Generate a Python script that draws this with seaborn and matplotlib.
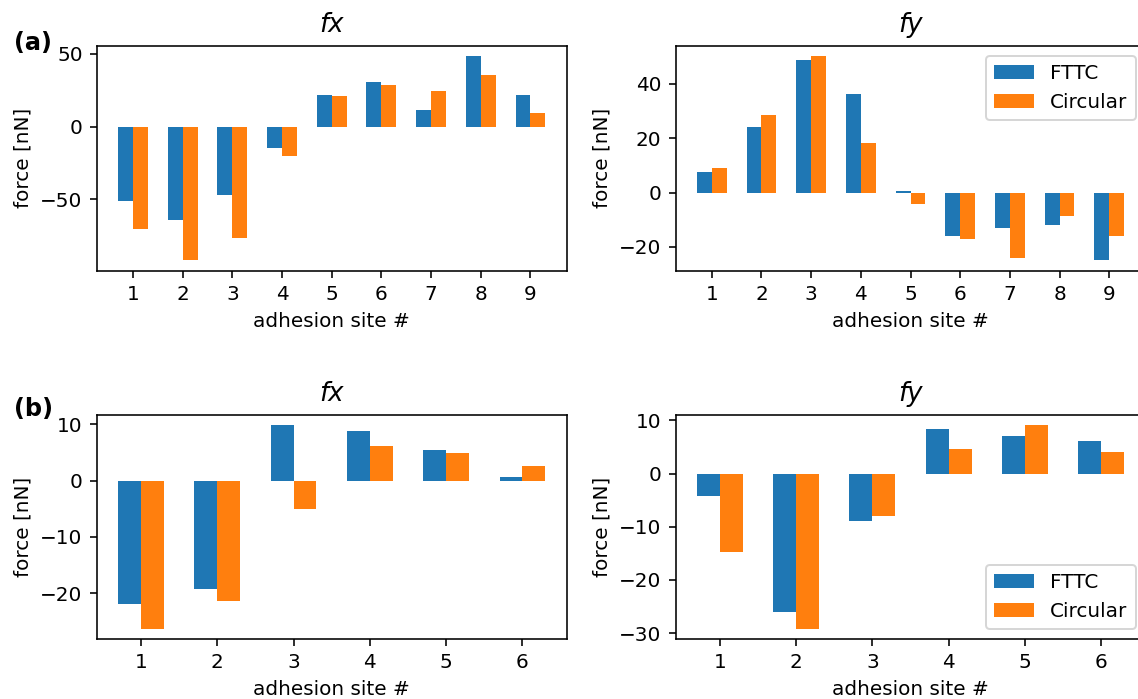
import matplotlib
matplotlib.use('Agg')
import matplotlib.pyplot as plt
import pandas
import seaborn as sns

# values, in nN
sites_a = [1, 2, 3, 4, 5, 6, 7, 8, 9]
fx_a_fttc = [-51.4, -64.4, -46.8, -14.6, 21.7, 30.6, 11.4, 48.4, 21.7]
fx_a_circ = [-70.1, -92.0, -76.3, -20.1, 21.0, 28.5, 24.4, 35.8, 9.4]
fy_a_fttc = [7.4, 24.0, 48.7, 36.4, 0.4, -16.1, -12.9, -11.8, -25.0]
fy_a_circ = [9.2, 28.4, 50.2, 18.1, -4.3, -17.2, -24.2, -8.5, -15.9]

sites_b = [1, 2, 3, 4, 5, 6]
fx_b_fttc = [-21.9, -19.2, 9.9, 8.8, 5.4, 0.7]
fx_b_circ = [-26.3, -21.4, -5.1, 6.1, 4.9, 2.6]
fy_b_fttc = [-4.3, -26.0, -9.0, 8.3, 7.1, 6.2]
fy_b_circ = [-14.7, -29.2, -7.9, 4.7, 9.2, 4.1]

methods = ['FTTC', 'Circular']
colors = ['#1f77b4', '#ff7f0e']

DPI = 144


def make_frame(sites, fttc, circ):
    rows = []
    for s, v in zip(sites, fttc):
        rows.append({'site': s, 'method': 'FTTC', 'force': v})
    for s, v in zip(sites, circ):
        rows.append({'site': s, 'method': 'Circular', 'force': v})
    return pandas.DataFrame(rows)


def draw_panel(ax, sites, fttc, circ, title, legend_loc=None):
    df = make_frame(sites, fttc, circ)
    sns.barplot(data=df, x='site', y='force', hue='method', hue_order=methods,
                palette=colors, saturation=1, width=0.6, errorbar=None,
                linewidth=0, ax=ax)
    n = len(sites)
    pad = 0.05 * (n - 1 + 0.6)
    ax.set_xlim(-0.3 - pad, n - 1 + 0.3 + pad)
    ax.set_xlabel('adhesion site #')
    ax.set_ylabel('force [nN]')
    ax.set_title(title, fontstyle='italic', fontsize=13, pad=7)
    if legend_loc is None:
        ax.get_legend().remove()
    else:
        ax.legend(loc=legend_loc, title=None)


W, H = 1138.0, 699.0
fig = plt.figure(figsize=(W / DPI, H / DPI), dpi=DPI)
col_x = [96.7, 675.5]
row_y = [(46.0, 270.7), (414.5, 639.0)]
aw = 470.0

axes = {}
for r, (top, bot) in enumerate(row_y):
    for c, x0 in enumerate(col_x):
        axes[(r, c)] = fig.add_axes([x0 / W, 1 - bot / H, aw / W, (bot - top) / H])

draw_panel(axes[(0, 0)], sites_a, fx_a_fttc, fx_a_circ, 'fx')
draw_panel(axes[(0, 1)], sites_a, fy_a_fttc, fy_a_circ, 'fy', legend_loc='upper right')
draw_panel(axes[(1, 0)], sites_b, fx_b_fttc, fx_b_circ, 'fx')
draw_panel(axes[(1, 1)], sites_b, fy_b_fttc, fy_b_circ, 'fy', legend_loc='lower right')

fig.text(14 / W, 1 - 43 / H, '(a)', fontweight='bold', fontsize=12, va='center', ha='left')
fig.text(14 / W, 1 - 409 / H, '(b)', fontweight='bold', fontsize=12, va='center', ha='left')

fig.savefig('out.png', dpi=DPI)
